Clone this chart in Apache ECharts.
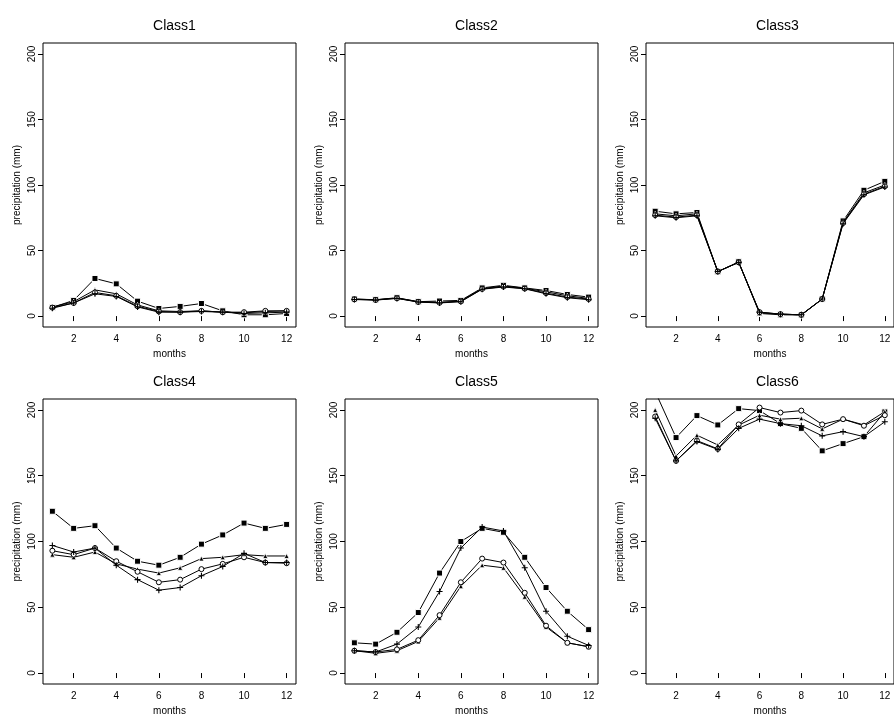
<!DOCTYPE html>
<html>
<head>
<meta charset="utf-8">
<script src="https://cdn.jsdelivr.net/npm/echarts@6/dist/echarts.min.js"></script>
<style>html,body{margin:0;padding:0;background:#fff}#c{width:894px;height:717px}</style>
</head>
<body>
<div id="c"></div>
<script>
const months = [1,2,3,4,5,6,7,8,9,10,11,12];
const classNames = ['Class1','Class2','Class3','Class4','Class5','Class6'];
const xTicks = [2,4,6,8,10,12];
const yTicks = [0,50,100,150,200];

const c1Square   = [6.6, 12, 28.7, 24.6, 11.4, 5.8, 7.4, 9.6, 4, 1, 1, 2];
const c1Triangle = [7, 11, 20, 17, 8.5, 4, 3.5, 4, 3, 2.5, 3.5, 4];
const c1Circle   = [6.5, 10, 18, 15.5, 7.5, 3.5, 3, 4, 3, 3, 4, 4];
const c1Plus     = [6, 10, 17, 15, 7, 3, 3, 3.5, 3, 2, 2.5, 3];

const c2Square   = [13, 12.5, 14, 11, 11.5, 12, 21.5, 23.5, 21.5, 19.5, 16.5, 14.5];
const c2Triangle = [13, 12.4, 13.8, 11, 10.5, 11.5, 21, 23, 21.3, 18.5, 15.5, 13.5];
const c2Circle   = [12.8, 12.3, 13.6, 10.8, 10.2, 11.2, 20.7, 22.5, 21, 17.5, 14.5, 13];
const c2Plus     = [12.6, 12.2, 13.5, 10.7, 10, 11, 20.5, 22.2, 20.8, 17, 14, 12.5];

const c3Square   = [80, 78, 79, 33.8, 41.4, 2, 1, 0.8, 13, 72.6, 96, 102.8];
const c3Triangle = [78, 76.5, 78, 34, 41, 2.5, 1.5, 1, 13, 71.5, 94, 100];
const c3Circle   = [77, 75.5, 77, 34, 41, 3, 1.5, 1, 13, 71, 93, 99];
const c3Plus     = [76.5, 75, 76.5, 34, 41, 3, 1.5, 1, 13, 70.5, 92.5, 98.5];

const c4Square   = [123, 110, 112, 95, 85, 82, 88, 98, 105, 114, 110, 113];
const c4Triangle = [90, 88, 92, 83, 79, 76, 80, 87, 88, 90, 89, 89];
const c4Circle   = [93, 90, 95, 85, 77, 69, 71, 79, 83, 88, 84, 83.5];
const c4Plus     = [97, 92, 95, 82, 71, 63, 65, 74, 81, 91, 84, 84];

const c5Square   = [23, 22, 31, 46, 76, 100, 110, 107, 88, 65, 47, 33];
const c5Triangle = [17, 15, 17, 24, 42, 66, 82, 80, 58, 35, 23, 20];
const c5Circle   = [17, 16, 18, 25, 44, 69, 87, 84, 61, 36, 23, 20];
const c5Plus     = [17, 16, 22, 35, 62, 95, 111, 108, 80, 47, 28, 21];

const c6Square   = [214, 179, 195.7, 188.6, 201, 199.5, 189.6, 186, 168.9, 174.4, 179.7, 198.5];
const c6Triangle = [200, 165, 180.8, 173.4, 188.5, 196, 193, 193.7, 185.6, 193, 188.6, 198.7];
const c6Circle   = [195, 161.3, 176.7, 170.4, 189, 201.8, 198, 199.5, 189, 193, 188, 196];
const c6Plus     = [193.7, 161.3, 176, 170, 186, 193, 189.6, 188, 180.3, 183.5, 179.7, 191];

const classData = [
  [c1Square, c1Triangle, c1Circle, c1Plus],
  [c2Square, c2Triangle, c2Circle, c2Plus],
  [c3Square, c3Triangle, c3Circle, c3Plus],
  [c4Square, c4Triangle, c4Circle, c4Plus],
  [c5Square, c5Triangle, c5Circle, c5Plus],
  [c6Square, c6Triangle, c6Circle, c6Plus]
];

const FONT = "'Liberation Sans', Arial, Helvetica, sans-serif";
const colLeft = [43, 345, 646];
const rowTop = [43, 399];
const gridW = 253, gridH = 284;

const plusPath = 'path://M4.1,0H5.9V4.1H10V5.9H5.9V10H4.1V5.9H0V4.1H4.1Z';
const symbolStyles = [
  {symbol: 'rect', symbolSize: 6, itemStyle: {color: '#000', borderColor: '#fff', borderWidth: 1}},
  {symbol: 'triangle', symbolSize: 5, itemStyle: {color: '#000', borderColor: '#fff', borderWidth: 0.8}},
  {symbol: 'circle', symbolSize: 5, itemStyle: {color: '#fff', borderColor: '#000', borderWidth: 1}},
  {symbol: plusPath, symbolSize: 6, itemStyle: {color: '#000', borderWidth: 0}}
];

const grids = [], xAxes = [], yAxes = [], titles = [], series = [];
classNames.forEach((name, i) => {
  const r = Math.floor(i / 3), c = i % 3;
  const left = colLeft[c], top = rowTop[r];
  grids.push({left: left, top: top, width: gridW, height: gridH + r, show: true,
    borderColor: '#000', borderWidth: 1, backgroundColor: 'transparent', containLabel: false});
  titles.push({text: name, left: left + gridW / 2, top: top - 29, textAlign: 'center',
    textStyle: {fontFamily: FONT, fontSize: 14, fontWeight: 'normal', color: '#000'}});
  xAxes.push({type: 'value', gridIndex: i, min: 0.56, max: 12.44,
    name: 'months', nameLocation: 'middle', nameGap: 22,
    nameTextStyle: {fontFamily: FONT, fontSize: 10, color: '#000'},
    axisLine: {show: false},
    axisTick: {show: true, length: 5, lineStyle: {color: '#000'}, customValues: xTicks},
    axisLabel: {fontFamily: FONT, fontSize: 10, color: '#000', margin: 7, customValues: xTicks},
    splitLine: {show: false}});
  yAxes.push({type: 'value', gridIndex: i, min: -8.32, max: 208.32,
    name: 'precipitation (mm)', nameLocation: 'middle', nameGap: 21, nameRotate: 90,
    nameTextStyle: {fontFamily: FONT, fontSize: 10, color: '#000'},
    axisLine: {show: false},
    axisTick: {show: true, length: 5, lineStyle: {color: '#000'}, customValues: yTicks},
    axisLabel: {fontFamily: FONT, fontSize: 10, color: '#000', margin: 6, rotate: 90, customValues: yTicks},
    splitLine: {show: false}});
  classData[i].forEach((vals, k) => {
    const st = symbolStyles[k];
    series.push({type: 'line', xAxisIndex: i, yAxisIndex: i,
      data: months.map((m, j) => [m, vals[j]]),
      symbol: st.symbol, symbolSize: st.symbolSize, showAllSymbol: true,
      itemStyle: st.itemStyle, lineStyle: {color: '#000', width: 1},
      clip: true, z: 2 + k, animation: false, silent: true});
  });
});

const chart = echarts.init(document.getElementById('c'), null, {renderer: 'canvas'});
chart.setOption({backgroundColor: '#fff', animation: false, title: titles,
  grid: grids, xAxis: xAxes, yAxis: yAxes, series: series});
</script>
</body>
</html>
